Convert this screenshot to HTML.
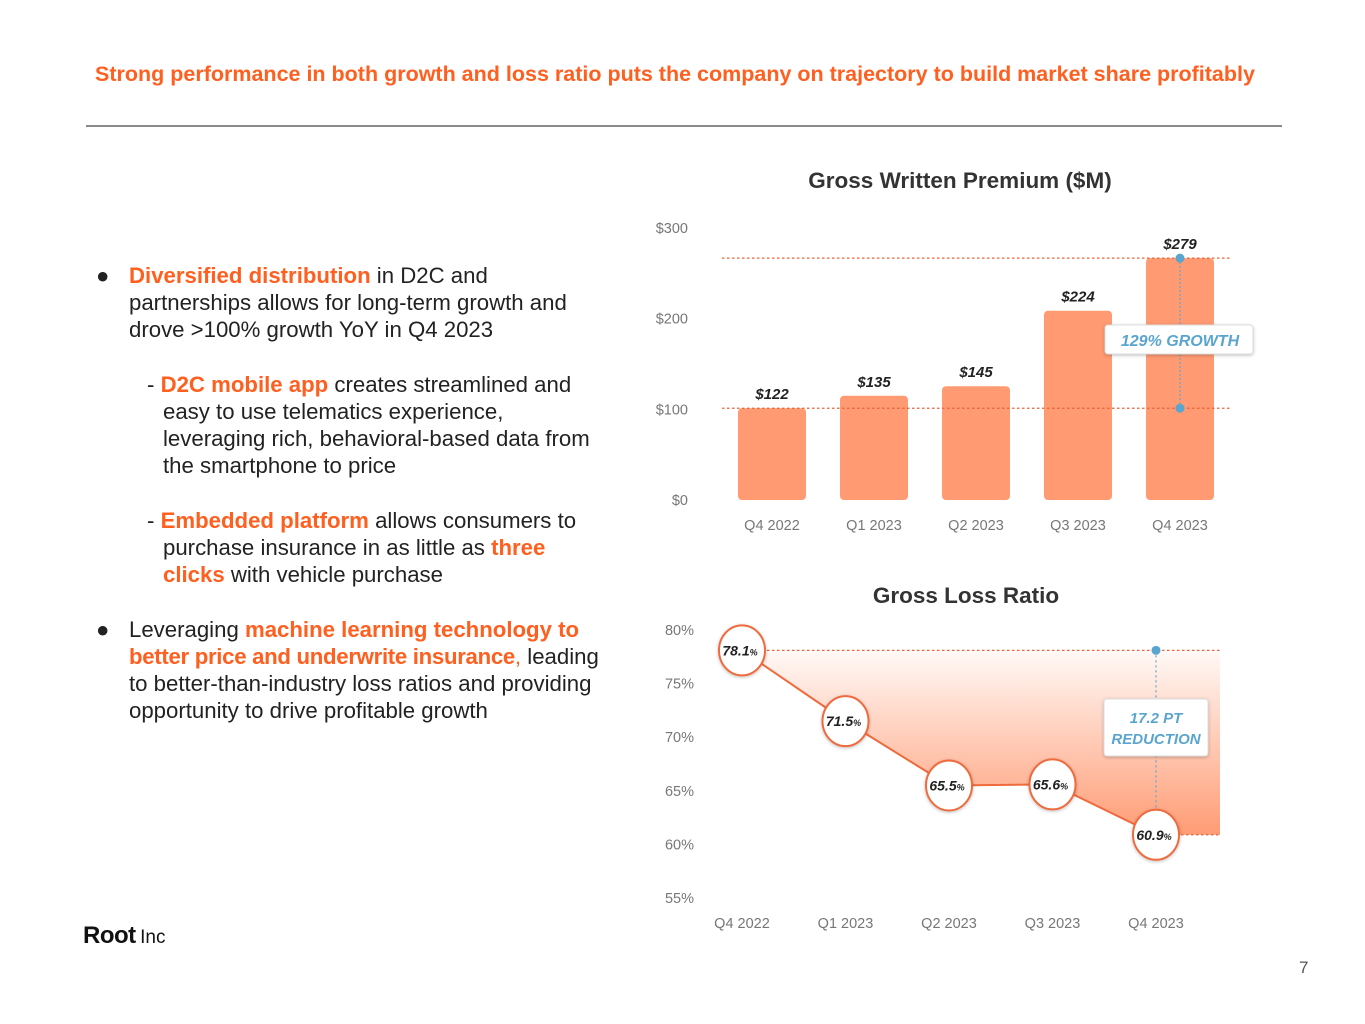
<!DOCTYPE html>
<html><head><meta charset="utf-8">
<style>
body{margin:0;width:1365px;height:1024px;background:#fff;position:relative;overflow:hidden;font-family:"Liberation Sans",sans-serif;}
.o{color:#ff5f1f;font-weight:bold;}
.t{position:absolute;font-size:22.2px;color:#222;white-space:nowrap;}
</style></head><body>
<div style="position:absolute;left:95px;top:62px;font-size:21.5px;font-weight:bold;color:#ff5f1f;white-space:nowrap;">Strong performance in both growth and loss ratio puts the company on trajectory to build market share profitably</div>
<div style="position:absolute;left:86px;top:125px;width:1196px;height:2px;background:#8a8a8a;"></div>

<div>
<div class="t" style="left:96px;top:263px;">●</div>
<div class="t" style="left:129px;top:263px;"><span class="o">Diversified distribution</span> in D2C and</div>
<div class="t" style="left:129px;top:290px;">partnerships allows for long-term growth and</div>
<div class="t" style="left:129px;top:317px;">drove &gt;100% growth YoY in Q4 2023</div>
<div class="t" style="left:147px;top:372px;">- <span class="o">D2C mobile app</span> creates streamlined and</div>
<div class="t" style="left:163px;top:399px;">easy to use telematics experience,</div>
<div class="t" style="left:163px;top:426px;">leveraging rich, behavioral-based data from</div>
<div class="t" style="left:163px;top:453px;">the smartphone to price</div>
<div class="t" style="left:147px;top:508px;">- <span class="o">Embedded platform</span> allows consumers to</div>
<div class="t" style="left:163px;top:535px;">purchase insurance in as little as <span class="o">three</span></div>
<div class="t" style="left:163px;top:562px;"><span class="o">clicks</span> with vehicle purchase</div>
<div class="t" style="left:96px;top:617px;">●</div>
<div class="t" style="left:129px;top:617px;">Leveraging <span class="o">machine learning technology to</span></div>
<div class="t" style="left:129px;top:644px;"><span class="o" style="letter-spacing:-0.3px">better price and underwrite insurance</span><span style="color:#ff5f1f">,</span> leading</div>
<div class="t" style="left:129px;top:671px;">to better-than-industry loss ratios and providing</div>
<div class="t" style="left:129px;top:698px;">opportunity to drive profitable growth</div>
</div>

<div style="position:absolute;left:83px;top:922px;color:#111;white-space:nowrap;"><b style="font-size:24px;letter-spacing:-0.5px">Root</b> <span style="font-size:19px;">Inc</span></div>
<div style="position:absolute;left:1299px;top:958px;font-size:17px;color:#555;">7</div>

<svg width="1365" height="1024" style="position:absolute;left:0;top:0;" font-family="Liberation Sans, sans-serif">
<defs>
<linearGradient id="lg" x1="0" y1="0" x2="0" y2="1">
<stop offset="0" stop-color="#ff8a5c" stop-opacity="0.05"/>
<stop offset="1" stop-color="#ff8a5c" stop-opacity="0.85"/>
</linearGradient>
<filter id="sh" x="-20%" y="-20%" width="140%" height="150%"><feDropShadow dx="0" dy="1" stdDeviation="1.5" flood-opacity="0.25"/></filter>
</defs>
<g id="bar"></g>
<g id="line"></g>
</svg>
<script>
const barCats=["Q4 2022","Q1 2023","Q2 2023","Q3 2023","Q4 2023"];
const barVals=[122,135,145,224,279];
const barLabels=["$122","$135","$145","$224","$279"];
const barTicks=[0,100,200,300];
const barTickLabels=["$0","$100","$200","$300"];
const lineCats=["Q4 2022","Q1 2023","Q2 2023","Q3 2023","Q4 2023"];
const lineVals=[78.1,71.5,65.5,65.6,60.9];
const lineLabels=["78.1","71.5","65.5","65.6","60.9"];
const lineTicks=[80,75,70,65,60,55];
const NS="http://www.w3.org/2000/svg";
function mk(p,tag,a,txt){const e=document.createElementNS(NS,tag);for(const k in a)e.setAttribute(k,a[k]);if(txt!==undefined)e.textContent=txt;p.appendChild(e);return e;}
// ---- bar chart
const bg=document.getElementById('bar');
const bx=i=>772+i*102;
const byTick=v=>500-v*0.907;
const by=v=>500-Math.max(0,(v-26)*0.956);
let t=mk(bg,'text',{x:960,y:188,'text-anchor':'middle','font-size':22.5,'font-weight':'bold',fill:'#333'},'Gross Written Premium ($M)');

barTicks.forEach((v,i)=>{const e=mk(bg,'text',{x:688,y:byTick(v)+5,'text-anchor':'end','font-size':14.5,fill:'#777'},barTickLabels[i]);
});
barVals.forEach((v,i)=>{
const r=mk(bg,'rect',{x:bx(i)-34,y:by(v),width:68,height:500-by(v),rx:4,fill:'#ff9a72'});

const l=mk(bg,'text',{x:bx(i),y:by(v)-9,'text-anchor':'middle','font-size':15,'font-weight':'bold','font-style':'italic',fill:'#222'},barLabels[i]);

const c=mk(bg,'text',{x:bx(i),y:530,'text-anchor':'middle','font-size':14.5,fill:'#777'},barCats[i]);
});
const n=barVals.length-1;
[by(barVals[0]),by(barVals[n])].forEach(y=>{const d=mk(bg,'line',{x1:722,x2:1232,y1:y,y2:y,stroke:'#e8643a','stroke-width':1.3,'stroke-dasharray':'2.5 2.5'});
});
mk(bg,'line',{x1:bx(n),x2:bx(n),y1:by(barVals[n]),y2:by(barVals[0]),stroke:'#5aa5cf','stroke-width':1.2,'stroke-dasharray':'2 2'});
mk(bg,'circle',{cx:bx(n),cy:by(barVals[n]),r:4.5,fill:'#5aa5cf'});
mk(bg,'circle',{cx:bx(n),cy:by(barVals[0]),r:4.5,fill:'#5aa5cf'});
const gb=mk(bg,'g',{});

mk(gb,'rect',{x:1105,y:325,width:148,height:29,rx:3,fill:'#fff',stroke:'#ddd',filter:'url(#sh)'});
mk(gb,'text',{x:1180,y:346,'text-anchor':'middle','font-size':16,'font-weight':'bold','font-style':'italic',fill:'#5aa5cf'},'129% GROWTH');
// ---- line chart
const lg=document.getElementById('line');
const lx=i=>742+i*103.5;
const ly=v=>630+(80-v)*10.72;
t=mk(lg,'text',{x:966,y:603,'text-anchor':'middle','font-size':22.5,'font-weight':'bold',fill:'#333'},'Gross Loss Ratio');

lineTicks.forEach(v=>{const e=mk(lg,'text',{x:694,y:ly(v)+5,'text-anchor':'end','font-size':14.5,fill:'#777'},v+'%');
});
const last=lineVals.length-1;
let ad='M'+lx(0)+','+ly(lineVals[0]);
lineVals.forEach((v,i)=>{ad+=' L'+lx(i)+','+ly(v);});
ad+=' L1220,'+ly(lineVals[last])+' L1220,'+ly(lineVals[0])+' Z';
const ar=mk(lg,'path',{d:ad,fill:'url(#lg)'});

[[lineVals[0],lx(0)],[lineVals[last],lx(last)]].forEach(([v,x0])=>{const d=mk(lg,'line',{x1:x0,x2:1220,y1:ly(v),y2:ly(v),stroke:'#e8643a','stroke-width':1.3,'stroke-dasharray':'2.5 2.5'});
});
const pl=mk(lg,'polyline',{points:lineVals.map((v,i)=>lx(i)+','+ly(v)).join(' '),fill:'none',stroke:'#ef6a3c','stroke-width':2});

mk(lg,'line',{x1:lx(last),x2:lx(last),y1:ly(lineVals[0]),y2:ly(lineVals[last]),stroke:'#5aa5cf','stroke-width':1.2,'stroke-dasharray':'2 3'});
mk(lg,'circle',{cx:lx(last),cy:ly(lineVals[0]),r:4.5,fill:'#5aa5cf'});
const gc=mk(lg,'g',{});

mk(gc,'rect',{x:1104,y:699,width:104,height:57,rx:3,fill:'#fff',stroke:'#ddd',filter:'url(#sh)'});
mk(gc,'text',{x:1156,y:723,'text-anchor':'middle','font-size':15,'font-weight':'bold','font-style':'italic',fill:'#5aa5cf'},'17.2 PT');
mk(gc,'text',{x:1156,y:744,'text-anchor':'middle','font-size':15,'font-weight':'bold','font-style':'italic',fill:'#5aa5cf'},'REDUCTION');
lineVals.forEach((v,i)=>{
const g=mk(lg,'g',{});


mk(g,'ellipse',{cx:lx(i),cy:ly(v),rx:23,ry:25,fill:'#fff',stroke:'#ef6a3c','stroke-width':2,filter:'url(#sh)'});
const tx=mk(g,'text',{x:lx(i)-2,y:ly(v)+5,'text-anchor':'middle','font-size':14,'font-weight':'bold','font-style':'italic',fill:'#222'},lineLabels[i]);
mk(tx,'tspan',{'font-size':9},'%');
const c=mk(lg,'text',{x:lx(i),y:928,'text-anchor':'middle','font-size':14.5,fill:'#777'},lineCats[i]);
});
</script>
</body></html>
